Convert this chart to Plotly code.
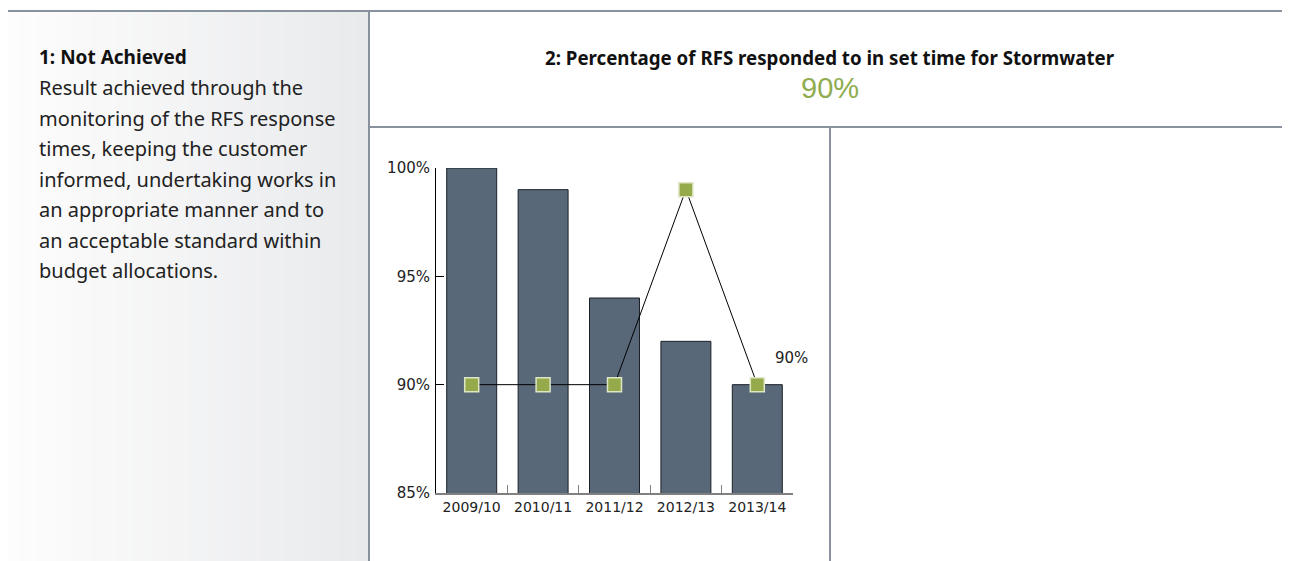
import plotly.graph_objects as go

W, H = 1290, 561

# ---- data ----
categories = ["2009/10", "2010/11", "2011/12", "2012/13", "2013/14"]
actual_values = [100, 99, 94, 92, 90]
target_values = [90, 90, 90, 99, 90]
y_tick_values = [85, 90, 95, 100]
y_tick_labels = ["85%", "90%", "95%", "100%"]
headline_value = "90%"
last_label = "90%"
panel_title = "1: Not Achieved"
panel_lines = [
    "Result achieved through the",
    "monitoring of the RFS response",
    "times, keeping the customer",
    "informed, undertaking works in",
    "an appropriate manner and to",
    "an acceptable standard within",
    "budget allocations.",
]
chart_title = "2: Percentage of RFS responded to in set time for Stormwater"

OX, OY = 8, 8  # page body margin


def px(x):
    return (x - OX) / W


def py(y):
    return 1 - (y - OY) / H


BORDER = "#87929e"
BODY_FONT = "Noto Sans"

fig = go.Figure()
fig.add_trace(go.Bar(
    x=categories, y=actual_values,
    marker=dict(color="#596878", line=dict(color="#1b2027", width=1)),
    showlegend=False, hoverinfo="x+y",
))
fig.add_trace(go.Scatter(
    x=categories, y=target_values, mode="lines+markers",
    line=dict(color="#000000", width=1),
    marker=dict(symbol="square", size=14, color="#95aa4b",
                line=dict(color="#dfe6c6", width=1.5)),
    showlegend=False,
))

shapes = []
# gradient left panel via stripes
x0, x1 = 7, 369
n = 60
c0 = (253, 253, 253)
c1 = (233, 234, 236)
for i in range(n):
    t = i / (n - 1)
    c = tuple(round(c0[k] + (c1[k] - c0[k]) * t) for k in range(3))
    xa = x0 + (x1 - x0) * i / n
    xb = x0 + (x1 - x0) * (i + 1) / n + 0.6
    shapes.append(dict(type="rect", xref="paper", yref="paper",
                       x0=px(xa), x1=px(min(xb, x1)), y0=py(575), y1=py(11),
                       fillcolor="rgb(%d,%d,%d)" % c, line=dict(width=0), layer="below"))
# borders
for (xa, ya, xb, yb) in [(7, 11, 1300, 11), (7, 11, 7, 575), (369, 11, 369, 575),
                         (369, 127, 1300, 127), (830, 127, 830, 575)]:
    shapes.append(dict(type="line", xref="paper", yref="paper",
                       x0=px(xa), x1=px(xb), y0=py(ya), y1=py(yb),
                       line=dict(color=BORDER, width=2)))

annotations = []
annotations.append(dict(text="<b>" + panel_title + "</b>", xref="paper", yref="paper",
                        x=px(37), y=py(57), xanchor="left", yanchor="middle",
                        showarrow=False, font=dict(family=BODY_FONT, size=19, color="#111111")))
for i, line in enumerate(panel_lines):
    annotations.append(dict(text=line, xref="paper", yref="paper",
                            x=px(37), y=py(88 + i * 30.4), xanchor="left", yanchor="middle",
                            showarrow=False,
                            font=dict(family=BODY_FONT, size=20, color="#222222")))
annotations.append(dict(text="<b>" + chart_title + "</b>", xref="paper", yref="paper",
                        x=px(830), y=py(57), xanchor="center", yanchor="middle",
                        showarrow=False, font=dict(family=BODY_FONT, size=18.7, color="#111111")))
annotations.append(dict(text=headline_value, xref="paper", yref="paper",
                        x=px(830), y=py(88), xanchor="center", yanchor="middle",
                        showarrow=False, font=dict(family="Liberation Sans", size=29, color="#8fac4e")))
annotations.append(dict(text=last_label, x=categories[-1], y=target_values[-1],
                        xref="x", yref="y", xshift=34, yshift=27,
                        showarrow=False, font=dict(family="DejaVu Sans", size=15, color="#222222")))

fig.update_layout(
    width=W, height=H,
    margin=dict(l=0, r=0, t=0, b=0, autoexpand=False),
    paper_bgcolor="white", plot_bgcolor="white",
    bargap=0.3,
    shapes=shapes, annotations=annotations,
    xaxis=dict(domain=[px(436), px(793)], type="category", automargin=False,
               range=[-0.5, len(categories) - 0.5],
               showline=True, linecolor="#808080", linewidth=1.5,
               ticks="inside", ticklen=8, tickcolor="#808080", tickson="boundaries",
               showgrid=False, zeroline=False,
               tickfont=dict(family="DejaVu Sans", size=14, color="#222222")),
    yaxis=dict(domain=[py(493), py(168)], range=[85, 100], automargin=False,
               tickvals=y_tick_values, ticktext=y_tick_labels,
               showline=True, linecolor="#000000", linewidth=1,
               ticks="inside", ticklen=8, tickcolor="#000000",
               ticklabelstandoff=2,
               showgrid=False, zeroline=False,
               tickfont=dict(family="DejaVu Sans", size=15, color="#222222")),
)

fig.write_html("out.html")
